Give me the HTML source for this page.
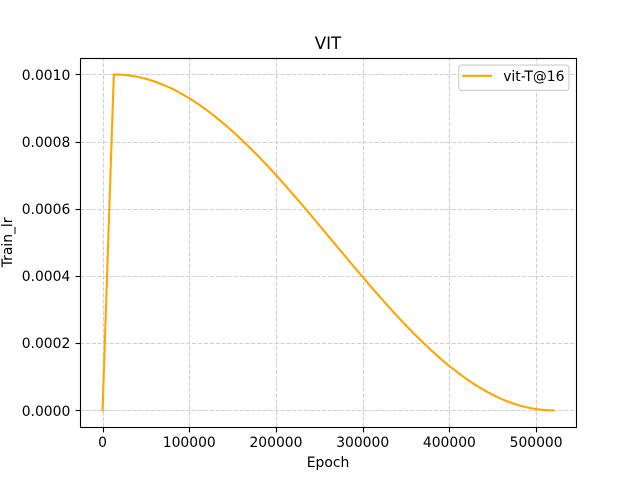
<!DOCTYPE html>
<html lang="en">
<head>
<meta charset="utf-8">
<title>VIT</title>
<style>
html,body{margin:0;padding:0;background:#fff;}
svg{display:block;}
text{font-family:"DejaVu Sans",sans-serif;fill:#000;}
</style>
</head>
<body>
<svg id="chart" width="640" height="480" viewBox="0 0 640 480" xmlns="http://www.w3.org/2000/svg">
  <rect x="0" y="0" width="640" height="480" fill="#ffffff"/>
  <g id="grid"></g>
  <g id="series"></g>
  <rect x="80.5" y="58.5" width="496" height="369" fill="none" stroke="#000" stroke-width="1.11"/>
  <g id="ticks"></g>
  <text x="328" y="49" font-size="16.67" text-anchor="middle">VIT</text>
  <text x="328" y="467" font-size="13.89" text-anchor="middle">Epoch</text>
  <text transform="translate(12 242.4) rotate(-90)" font-size="13.89" text-anchor="middle">Train_lr</text>
  <g>
    <rect x="458.7" y="65.1" width="110.3" height="25.3" rx="2.8" ry="2.8" fill="#ffffff" fill-opacity="0.8" stroke="#cccccc" stroke-width="1.11"/>
    <line x1="462" y1="75.8" x2="492" y2="75.8" stroke="#ffa500" stroke-width="2.08"/>
    <text x="503.2" y="81" font-size="13.89">vit-T@16</text>
  </g>
</svg>
<script>
const epochs = [0, 13000, 20000, 30000, 40000, 50000, 60000, 70000, 80000, 90000, 100000, 110000, 120000, 130000, 140000, 150000, 160000, 170000, 180000, 190000, 200000, 210000, 220000, 230000, 240000, 250000, 260000, 270000, 280000, 290000, 300000, 310000, 320000, 330000, 340000, 350000, 360000, 370000, 380000, 390000, 400000, 410000, 420000, 430000, 440000, 450000, 460000, 470000, 480000, 490000, 500000, 510000, 520000];
const trainLr = [0, 0.001, 0.0009995, 0.00099723, 0.000993, 0.00098692, 0.0009789, 0.00096914, 0.0009575, 0.00094415, 0.0009291, 0.00091234, 0.0008941, 0.0008742, 0.000853, 0.00083039, 0.0008067, 0.00078147, 0.0007557, 0.00072822, 0.000701, 0.00067148, 0.0006421, 0.0006121, 0.0005817, 0.00055101, 0.0005201, 0.00048914, 0.0004582, 0.00042743, 0.0003969, 0.00036684, 0.0003372, 0.00030829, 0.0002801, 0.0002527, 0.0002262, 0.00020084, 0.0001766, 0.00015361, 0.000132, 0.0001117, 0.0000929, 0.00007573, 0.0000602, 0.00004628, 0.0000342, 0.0000238, 0.0000153, 0.00000861, 0.0000038, 0.00000096, 0];
const xTickValues = [0, 100000, 200000, 300000, 400000, 500000];
const xTickLabels = ["0", "100000", "200000", "300000", "400000", "500000"];
const yTickValues = [0, 0.0002, 0.0004, 0.0006, 0.0008, 0.001];
const yTickLabels = ["0.0000", "0.0002", "0.0004", "0.0006", "0.0008", "0.0010"];

const NS = "http://www.w3.org/2000/svg";
const plot = { left: 80, right: 576, top: 57.6, bottom: 427.2 };
const xDomain = [-26000, 546000];
const yDomain = [-0.00005, 0.00105];
function xScale(v) {
  return plot.left + (v - xDomain[0]) / (xDomain[1] - xDomain[0]) * (plot.right - plot.left);
}
function yScale(v) {
  return plot.bottom - (v - yDomain[0]) / (yDomain[1] - yDomain[0]) * (plot.bottom - plot.top);
}
function snap(p) {
  return Math.floor(p + 0.5) + 0.5;
}
function make(tag, attrs, parent) {
  const el = document.createElementNS(NS, tag);
  Object.keys(attrs).forEach(function (k) { el.setAttribute(k, attrs[k]); });
  parent.appendChild(el);
  return el;
}
const gridLayer = document.getElementById("grid");
const tickLayer = document.getElementById("ticks");
const seriesLayer = document.getElementById("series");
const gridStyle = { stroke: "#cfcfcf", "stroke-width": 1.11, "stroke-dasharray": "4.1 1.8", fill: "none" };

xTickValues.forEach(function (v, i) {
  const x = snap(xScale(v));
  const g = make("line", Object.assign({ x1: x, x2: x, y1: 427.2, y2: 57.6 }, gridStyle), gridLayer);
  
  
  const t = make("line", { x1: x, x2: x, y1: 427.5, y2: 432.4, stroke: "#000", "stroke-width": 1.11 }, tickLayer);
  
  
  const l = make("text", { x: xScale(v), y: 447, "font-size": 13.89, "text-anchor": "middle" }, tickLayer);
  
  
  l.textContent = xTickLabels[i];
});

yTickValues.forEach(function (v, i) {
  const y = snap(yScale(v));
  const g = make("line", Object.assign({ x1: plot.left, x2: plot.right, y1: y, y2: y }, gridStyle), gridLayer);
  
  
  const t = make("line", { x1: 75.6, x2: 80.5, y1: y, y2: y, stroke: "#000", "stroke-width": 1.11 }, tickLayer);
  
  
  const l = make("text", { x: 70.3, y: Math.round(yScale(v) + 5.2), "font-size": 13.89, "text-anchor": "end" }, tickLayer);
  
  
  l.textContent = yTickLabels[i];
});

const points = epochs.map(function (e, i) {
  return xScale(e).toFixed(2) + "," + yScale(trainLr[i]).toFixed(2);
}).join(" ");
const line = make("polyline", { points: points, fill: "none", stroke: "#ffa500", "stroke-width": 2.08, "stroke-linejoin": "round", "stroke-linecap": "square" }, seriesLayer);


</script>
</body>
</html>
